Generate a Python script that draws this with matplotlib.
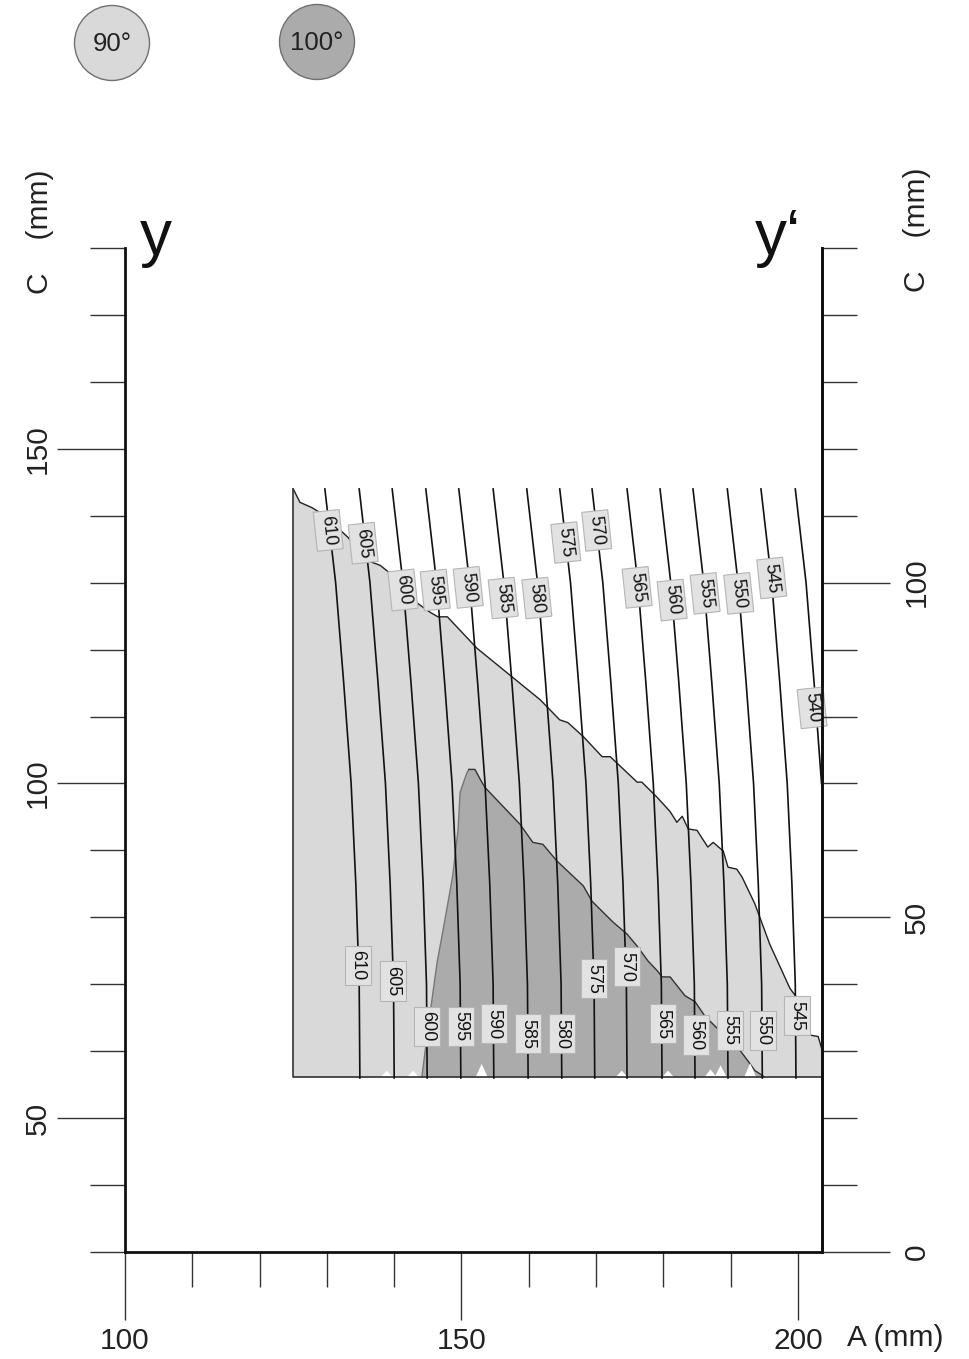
import matplotlib.pyplot as plt
from matplotlib.patches import Circle, Polygon
from matplotlib.ticker import MultipleLocator, FixedLocator

plt.rcParams['font.family'] = ['Liberation Sans', 'DejaVu Sans']

W, H = 969, 1359

# contour levels and their A positions at the sampled C heights
levels = [610, 605, 600, 595, 590, 585, 580, 575, 570, 565, 560, 555, 550, 545, 540]
C_samples = [144, 130, 115, 100, 85, 70, 56]
lines_A = [
    [129.7, 131.3, 132.5, 133.6, 134.3, 134.8, 134.9],
    [134.8, 136.4, 137.6, 138.7, 139.4, 139.9, 140.0],
    [139.7, 141.3, 142.5, 143.6, 144.3, 144.8, 144.9],
    [144.7, 146.3, 147.5, 148.6, 149.3, 149.8, 149.9],
    [149.6, 151.2, 152.4, 153.5, 154.2, 154.7, 154.8],
    [154.7, 156.3, 157.5, 158.6, 159.3, 159.8, 159.9],
    [159.7, 161.3, 162.5, 163.6, 164.3, 164.8, 164.9],
    [164.6, 166.2, 167.4, 168.5, 169.2, 169.7, 169.8],
    [169.4, 171.0, 172.2, 173.3, 174.0, 174.5, 174.6],
    [174.6, 176.2, 177.4, 178.5, 179.2, 179.7, 179.8],
    [179.5, 181.1, 182.3, 183.4, 184.1, 184.6, 184.7],
    [184.4, 186.0, 187.2, 188.3, 189.0, 189.5, 189.6],
    [189.5, 191.1, 192.3, 193.4, 194.1, 194.6, 194.7],
    [194.5, 196.1, 197.3, 198.4, 199.1, 199.6, 199.7],
    [199.6, 201.2, 202.4, 203.5],
]

# label positions (top row and bottom row)
top_lab_A = [130.2, 135.4, 141.3, 146.1, 151.0, 156.2, 161.2, 165.5, 170.1, 176.1, 181.3, 186.2, 191.2, 196.1, 202.1]
top_lab_C = [137.8, 135.9, 128.9, 128.9, 129.3, 127.7, 127.7, 136.0, 137.8, 129.3, 127.4, 128.4, 128.4, 130.7, 111.3]
bot_levels = [610, 605, 600, 595, 590, 585, 580, 575, 570, 565, 560, 555, 550, 545]
bot_lab_A = [134.6, 139.8, 144.9, 149.9, 154.8, 159.9, 164.9, 169.7, 174.6, 179.9, 184.8, 189.9, 194.8, 199.9]
bot_lab_C = [72.8, 70.5, 63.7, 63.7, 64.1, 62.6, 62.6, 70.8, 72.6, 64.1, 62.4, 63.1, 63.1, 65.3]

# boundary between 90 deg region and white
upper_A = [125.0, 126.0, 127.8, 129.7, 133.1, 136.0, 137.9, 139.4, 143.5, 145.3, 146.5, 147.9,
           152.3, 161.7, 164.6, 165.8, 168.1, 170.9, 172.1, 176.1, 176.8, 179.1, 181.0, 182.0,
           182.8, 183.7, 185.0, 186.6, 187.4, 188.9, 189.6, 190.9, 191.7, 193.6, 195.8, 198.8,
           199.9, 201.8, 203.0, 203.6]
upper_C = [144.0, 142.0, 141.2, 140.0, 136.8, 133.3, 132.6, 131.4, 126.9, 125.6, 124.9, 124.9,
           120.2, 112.5, 109.5, 109.1, 107.0, 104.0, 104.0, 100.2, 100.2, 97.9, 95.8, 94.2,
           95.1, 93.2, 93.0, 90.5, 91.2, 89.9, 87.5, 87.2, 86.0, 82.0, 76.0, 69.4,
           67.9, 62.4, 62.2, 60.1]

# 100 deg region (left flank then top edge)
dark_A = [144.1, 144.6, 145.6, 146.4, 147.3, 148.7, 149.5, 149.8, 150.8, 151.1, 152.0, 152.8,
          153.5, 158.7, 160.6, 162.1, 164.2, 168.1, 169.4, 172.5, 174.6, 176.1, 177.7, 179.2,
          179.8, 181.0, 183.2, 184.7, 186.2, 191.4, 192.6, 193.6, 194.7, 195.0]
dark_C = [56.1, 60.0, 67.6, 73.4, 78.3, 86.2, 93.2, 98.7, 101.6, 102.1, 102.1, 100.6,
          99.4, 93.9, 91.2, 90.9, 88.4, 84.7, 82.4, 79.3, 77.5, 75.7, 73.5, 71.9,
          71.1, 71.1, 68.3, 67.4, 65.2, 60.1, 58.5, 57.1, 56.4, 56.1]
dark_peak = 10

# small white notches along the bottom edge
notch_A = [138.9, 142.8, 153.0, 173.8, 180.7, 187.0, 188.5, 192.9]
notch_h = [1.0, 1.0, 2.0, 1.0, 1.0, 1.2, 1.8, 2.1]

A_left, A_right = 125.0, 203.6
C_bottom = 56.1
light = '#d9d9d9'
dark = '#ababab'

fig = plt.figure(figsize=(W / 100, H / 100), dpi=100)
ax = fig.add_axes([125 / W, 1 - 1252 / H, 697 / W, 1004 / H])
ax.set_xlim(100, 203.57)
ax.set_ylim(30, 180)

# regions
light_poly = list(zip(upper_A, upper_C)) + [(A_right, C_bottom), (A_left, C_bottom)]
ax.add_patch(Polygon(light_poly, closed=True, facecolor=light, edgecolor='none', zorder=1))
ax.add_patch(Polygon(list(zip(dark_A, dark_C)), closed=True, facecolor=dark,
                     edgecolor='none', zorder=2))
ax.plot(dark_A[:dark_peak], dark_C[:dark_peak], color='#777777', lw=1.0, zorder=3)
ax.plot(dark_A[dark_peak - 1:], dark_C[dark_peak - 1:], color='#333333', lw=1.0, zorder=3)
for a, h in zip(notch_A, notch_h):
    ax.add_patch(Polygon([(a - 0.9, C_bottom), (a, C_bottom + h), (a + 0.9, C_bottom)],
                         closed=True, facecolor='white', edgecolor='none', zorder=3))
ax.plot(upper_A, upper_C, color='#222222', lw=1.0, zorder=4)
ax.plot([A_left, A_left, A_right], [upper_C[0], C_bottom, C_bottom], color='#333333', lw=1.2, zorder=4)

# contour lines
for lvl, xs in zip(levels, lines_A):
    ax.plot(xs, C_samples[:len(xs)], color='#111111', lw=1.2, zorder=5)

box = dict(boxstyle='square,pad=0.25', facecolor='#e2e2e2', edgecolor='#b5b5b5', lw=0.8)
for lvl, a, c in zip(levels, top_lab_A, top_lab_C):
    ax.text(a, c, str(lvl), rotation=-84, rotation_mode='anchor', ha='center', va='center',
            fontsize=13, color='#111111', bbox=box, zorder=6)
for lvl, a, c in zip(bot_levels, bot_lab_A, bot_lab_C):
    ax.text(a, c, str(lvl), rotation=-90, rotation_mode='anchor', ha='center', va='center',
            fontsize=13, color='#111111', bbox=box, zorder=6)

# axes styling
ax.spines['top'].set_visible(False)
for s in ['left', 'bottom', 'right']:
    ax.spines[s].set_linewidth(2.0)
    ax.spines[s].set_color('#111111')

ax.xaxis.set_major_locator(MultipleLocator(50))
ax.xaxis.set_minor_locator(MultipleLocator(10))
ax.yaxis.set_major_locator(FixedLocator([50, 100, 150]))
ax.yaxis.set_minor_locator(MultipleLocator(10))
ax.tick_params(which='major', direction='out', length=49, width=1.0, color='#333333',
               labelsize=21.5, labelcolor='#222222')
ax.tick_params(which='minor', direction='out', length=25, width=1.0, color='#333333')
ax.tick_params(axis='x', which='major', pad=5)
ax.tick_params(axis='y', which='major', pad=4)
for t in ax.get_yticklabels():
    t.set_rotation(90)
    t.set_va('center')

ax2 = ax.twinx()
ax2.set_ylim(0, 150)
for s in ['top', 'left', 'bottom']:
    ax2.spines[s].set_visible(False)
ax2.spines['right'].set_linewidth(2.0)
ax2.spines['right'].set_color('#111111')
ax2.yaxis.set_major_locator(FixedLocator([0, 50, 100]))
ax2.yaxis.set_minor_locator(MultipleLocator(10))
ax2.tick_params(which='major', direction='out', length=49, width=1.0, color='#333333',
                labelsize=21.5, labelcolor='#222222', pad=9)
ax2.tick_params(which='minor', direction='out', length=25, width=1.0, color='#333333')
for t in ax2.get_yticklabels():
    t.set_rotation(90)
    t.set_va('center')

# axis titles
fig.text(40 / W, 1 - 232 / H, 'C    (mm)', rotation=90, ha='center', va='center',
         fontsize=21.5, color='#222222')
fig.text(917 / W, 1 - 230 / H, 'C    (mm)', rotation=90, ha='center', va='center',
         fontsize=21.5, color='#222222')
fig.text(895 / W, 1 - 1338 / H, 'A (mm)', ha='center', va='center', fontsize=21.5, color='#222222')
fig.text(156 / W, 1 - 238 / H, 'y', ha='center', va='center', fontsize=46, color='#111111')
fig.text(778 / W, 1 - 238 / H, 'y\u2018', ha='center', va='center', fontsize=46, color='#111111')

# legend circles
lg = fig.add_axes([0, 1 - 100 / H, 1, 100 / H])
lg.set_xlim(0, W)
lg.set_ylim(100, 0)
lg.axis('off')
lg.add_patch(Circle((112, 43), 37.5, facecolor=light, edgecolor='#707070', lw=1.0))
lg.add_patch(Circle((317, 42), 37.5, facecolor=dark, edgecolor='#707070', lw=1.0))
lg.text(112, 44, '90°', ha='center', va='center', fontsize=18.5, color='#222222')
lg.text(317, 43, '100°', ha='center', va='center', fontsize=18.5, color='#222222')

fig.savefig('out.png', dpi=100)
